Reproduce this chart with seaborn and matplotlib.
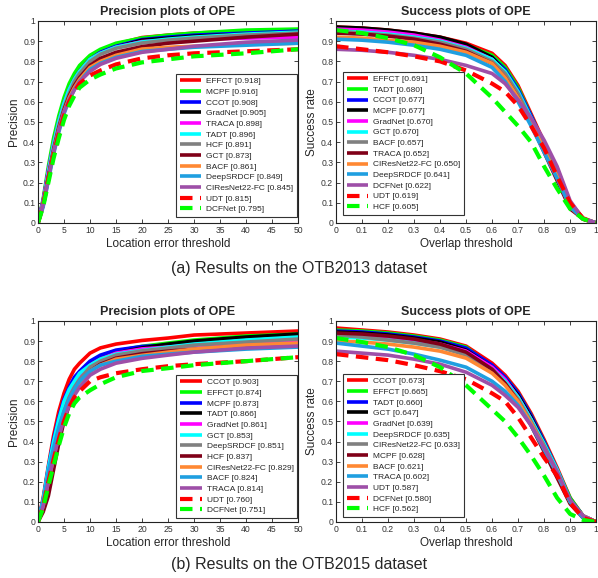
import numpy as np
import pandas as pd
import matplotlib
matplotlib.use('Agg')
import matplotlib.pyplot as plt
import seaborn as sns

# thresholds at which the curves are sampled
loc_thr = [0, 1, 2, 3, 4, 5, 6, 7, 8, 10, 12, 15, 20, 25, 30, 40, 50]
ovl_thr = [0, .1, .2, .3, .4, .5, .6, .65, .7, .75, .8, .85, .9, .95, 1]

# (a) OTB2013 precision
prec13_names = ['EFFCT', 'MCPF', 'CCOT', 'GradNet', 'TRACA', 'TADT', 'HCF', 'GCT',
                'BACF', 'DeepSRDCF', 'CIResNet22-FC', 'UDT', 'DCFNet']
prec13_scores = [0.918, 0.916, 0.908, 0.905, 0.898, 0.896, 0.891, 0.873,
                 0.861, 0.849, 0.845, 0.815, 0.795]
prec13_curves = [
    [0, .11, .26, .40, .51, .60, .67, .72, .76, .82, .855, .885, .918, .93, .94, .95, .955],
    [0, .12, .28, .42, .53, .62, .69, .74, .78, .83, .86, .89, .916, .93, .94, .955, .96],
    [0, .11, .26, .39, .50, .59, .66, .71, .75, .81, .845, .875, .908, .92, .93, .94, .95],
    [0, .10, .25, .38, .49, .58, .65, .70, .75, .81, .84, .87, .905, .915, .925, .935, .945],
    [0, .11, .26, .39, .50, .59, .66, .71, .75, .81, .84, .87, .898, .905, .91, .915, .92],
    [0, .10, .25, .39, .50, .59, .66, .71, .75, .81, .84, .87, .896, .91, .92, .935, .945],
    [0, .09, .23, .37, .48, .57, .64, .70, .74, .80, .835, .865, .891, .905, .915, .93, .94],
    [0, .09, .23, .36, .47, .56, .63, .68, .72, .78, .815, .845, .873, .89, .90, .92, .935],
    [0, .09, .22, .35, .46, .55, .62, .67, .71, .77, .80, .83, .861, .87, .875, .885, .89],
    [0, .08, .21, .34, .45, .54, .61, .66, .70, .76, .79, .82, .849, .86, .87, .88, .89],
    [0, .09, .22, .35, .46, .55, .61, .66, .70, .75, .785, .815, .845, .86, .875, .895, .905],
    [0, .09, .22, .34, .44, .53, .60, .65, .69, .73, .755, .785, .815, .83, .84, .85, .86],
    [0, .08, .20, .32, .42, .51, .58, .63, .67, .71, .735, .765, .795, .81, .825, .84, .86],
]

# (a) OTB2013 success
succ13_names = ['EFFCT', 'TADT', 'CCOT', 'MCPF', 'GradNet', 'GCT', 'BACF', 'TRACA',
                'CIResNet22-FC', 'DeepSRDCF', 'DCFNet', 'UDT', 'HCF']
succ13_scores = [0.691, 0.680, 0.677, 0.677, 0.670, 0.670, 0.657, 0.652,
                 0.650, 0.641, 0.622, 0.619, 0.605]
succ13_curves = [
    [.97, .965, .955, .94, .92, .89, .84, .78, .68, .54, .40, .27, .10, .025, 0],
    [.955, .95, .94, .93, .91, .88, .83, .77, .67, .53, .39, .25, .09, .02, 0],
    [.96, .955, .945, .93, .91, .875, .82, .76, .66, .53, .39, .25, .09, .02, 0],
    [.97, .965, .955, .94, .92, .885, .82, .75, .64, .51, .37, .23, .08, .02, 0],
    [.96, .955, .945, .93, .905, .87, .81, .74, .64, .51, .37, .24, .09, .02, 0],
    [.95, .945, .935, .92, .90, .865, .81, .75, .65, .52, .38, .24, .08, .02, 0],
    [.95, .94, .93, .915, .895, .86, .80, .74, .64, .51, .38, .25, .09, .02, 0],
    [.94, .935, .925, .91, .885, .85, .79, .72, .62, .49, .35, .21, .07, .02, 0],
    [.92, .915, .905, .895, .875, .845, .79, .72, .62, .50, .36, .23, .08, .02, 0],
    [.91, .905, .895, .88, .86, .83, .77, .70, .60, .48, .35, .22, .08, .02, 0],
    [.86, .855, .845, .83, .81, .78, .74, .69, .61, .52, .41, .28, .11, .02, 0],
    [.875, .86, .845, .825, .80, .755, .69, .65, .58, .48, .37, .23, .10, .02, 0],
    [.955, .94, .915, .88, .82, .74, .62, .55, .48, .40, .28, .17, .07, .02, 0],
]

# (b) OTB2015 precision
prec15_names = ['CCOT', 'EFFCT', 'MCPF', 'TADT', 'GradNet', 'GCT', 'DeepSRDCF', 'HCF',
                'CIResNet22-FC', 'BACF', 'TRACA', 'UDT', 'DCFNet']
prec15_scores = [0.903, 0.874, 0.873, 0.866, 0.861, 0.853, 0.851, 0.837,
                 0.829, 0.824, 0.814, 0.760, 0.751]
prec15_curves = [
    [0, .12, .28, .43, .55, .64, .71, .76, .79, .84, .866, .885, .903, .915, .93, .94, .95],
    [0, .10, .25, .38, .49, .58, .65, .70, .74, .79, .82, .85, .874, .89, .905, .925, .935],
    [0, .11, .27, .41, .52, .61, .67, .72, .75, .80, .83, .855, .873, .88, .885, .89, .90],
    [0, .10, .24, .37, .48, .57, .64, .69, .73, .78, .81, .84, .866, .885, .90, .92, .935],
    [0, .10, .25, .38, .49, .58, .64, .69, .73, .78, .81, .84, .861, .87, .88, .89, .90],
    [0, .11, .27, .40, .51, .60, .66, .70, .74, .78, .81, .835, .853, .87, .885, .905, .92],
    [0, .09, .22, .35, .46, .55, .62, .67, .71, .77, .80, .83, .851, .865, .88, .895, .91],
    [0, .05, .13, .26, .39, .50, .58, .64, .69, .75, .785, .815, .837, .85, .86, .875, .885],
    [0, .08, .20, .32, .43, .52, .59, .65, .69, .75, .78, .81, .829, .845, .86, .88, .89],
    [0, .10, .25, .37, .47, .55, .61, .66, .70, .75, .78, .80, .824, .835, .845, .86, .87],
    [0, .08, .20, .32, .42, .51, .58, .63, .67, .73, .76, .79, .814, .83, .845, .865, .875],
    [0, .08, .20, .31, .41, .50, .57, .62, .65, .70, .72, .74, .76, .775, .785, .80, .82],
    [0, .07, .18, .28, .38, .47, .54, .59, .62, .655, .685, .72, .751, .765, .78, .80, .82],
]

# (b) OTB2015 success
succ15_names = ['CCOT', 'EFFCT', 'TADT', 'GCT', 'GradNet', 'DeepSRDCF', 'CIResNet22-FC',
                'MCPF', 'BACF', 'TRACA', 'UDT', 'DCFNet', 'HCF']
succ15_scores = [0.673, 0.665, 0.660, 0.647, 0.639, 0.635, 0.633,
                 0.628, 0.621, 0.602, 0.587, 0.580, 0.562]
succ15_curves = [
    [.965, .955, .945, .93, .91, .875, .79, .73, .65, .54, .41, .27, .12, .03, 0],
    [.955, .95, .94, .925, .905, .87, .77, .72, .64, .53, .40, .26, .12, .03, 0],
    [.95, .945, .935, .92, .90, .865, .78, .72, .64, .53, .40, .26, .11, .03, 0],
    [.945, .94, .93, .915, .895, .855, .77, .71, .63, .52, .39, .25, .11, .03, 0],
    [.935, .93, .92, .905, .885, .85, .77, .71, .62, .51, .38, .25, .10, .03, 0],
    [.92, .915, .905, .89, .87, .835, .76, .70, .62, .51, .39, .26, .11, .03, 0],
    [.93, .92, .905, .89, .87, .83, .75, .69, .61, .50, .38, .25, .10, .03, 0],
    [.94, .935, .925, .91, .885, .845, .76, .69, .60, .48, .35, .22, .09, .02, 0],
    [.90, .895, .885, .87, .85, .815, .74, .68, .60, .49, .37, .24, .10, .03, 0],
    [.89, .875, .86, .835, .805, .77, .70, .65, .58, .48, .36, .24, .10, .02, 0],
    [.85, .84, .83, .81, .785, .745, .68, .63, .57, .48, .37, .25, .11, .03, 0],
    [.835, .82, .805, .78, .75, .71, .64, .60, .52, .42, .32, .23, .095, .02, 0],
    [.915, .895, .87, .83, .77, .68, .56, .50, .42, .33, .23, .12, .04, .01, 0],
]

# colour / line style by rank (MATLAB OTB toolkit style)
rank_colors = ['#ff0000', '#00ff00', '#0000ff', '#000000', '#ff00ff', '#00ffff',
               '#808080', '#800018', '#ff8833', '#1f9fe0', '#9e4fa8', '#ff0000', '#00ff00']

sns.set_style('ticks')
plt.rcParams['font.family'] = ['Liberation Sans', 'DejaVu Sans']


def draw_panel(ax, thr, names, scores, curves, kind, leg_loc, leg_anchor):
    for i, (name, score, vals) in enumerate(zip(names, scores, curves)):
        df = pd.DataFrame({'thr': thr, 'val': vals})
        if i >= 11:
            ls = (0, (3, 1.8))
            lw = 3.0
        else:
            ls = '-'
            lw = 2.6
        sns.lineplot(data=df, x='thr', y='val', ax=ax, color=rank_colors[i],
                     linestyle=ls, lw=lw, label=f'{name} [{score:.3f}]',
                     solid_capstyle='butt', dash_capstyle='butt')
    if kind == 'prec':
        ax.set_xlim(0, 50)
        ax.set_xticks(range(0, 51, 5))
        ax.set_xticklabels([str(t) for t in range(0, 51, 5)])
        ax.set_title('Precision plots of OPE', fontsize=9, fontweight='bold', pad=4)
        ax.set_xlabel('Location error threshold', fontsize=8.5, labelpad=2)
        ax.set_ylabel('Precision', fontsize=8.5, labelpad=2)
    else:
        ax.set_xlim(0, 1)
        ax.set_xticks(np.arange(0, 1.01, 0.1))
        ax.set_xticklabels(['0'] + [f'{t:.1f}' for t in np.arange(0.1, 0.95, 0.1)] + ['1'])
        ax.set_title('Success plots of OPE', fontsize=9, fontweight='bold', pad=4)
        ax.set_xlabel('Overlap threshold', fontsize=8.5, labelpad=2)
        ax.set_ylabel('Success rate', fontsize=8.5, labelpad=2)
    ax.set_ylim(0, 1)
    ax.set_yticks(np.arange(0, 1.01, 0.1))
    ax.set_yticklabels(['0'] + [f'{t:.1f}' for t in np.arange(0.1, 0.95, 0.1)] + ['1'])
    ax.tick_params(direction='in', top=True, right=True, labelsize=6.2, length=3,
                   width=0.6, colors='#222222', labelcolor='#333333', pad=2)
    for sp in ax.spines.values():
        sp.set_visible(True)
        sp.set_linewidth(0.8)
        sp.set_color('#222222')
    leg = ax.legend(loc=leg_loc, bbox_to_anchor=leg_anchor, fontsize=6,
                    frameon=True, fancybox=False, edgecolor='#333333',
                    framealpha=1, handlelength=2.6, labelspacing=0.34,
                    borderpad=0.45, handletextpad=0.6, borderaxespad=0)
    leg.get_frame().set_linewidth(0.8)


fig = plt.figure(figsize=(5.98, 5.78), dpi=100)
ax1 = fig.add_axes([0.0635, 0.6142, 0.435, 0.3495])
ax2 = fig.add_axes([0.5619, 0.6142, 0.435, 0.3495])
ax3 = fig.add_axes([0.0635, 0.0969, 0.435, 0.3478])
ax4 = fig.add_axes([0.5619, 0.0969, 0.435, 0.3478])

draw_panel(ax1, loc_thr, prec13_names, prec13_scores, prec13_curves, 'prec',
           'lower right', (0.997, 0.03))
draw_panel(ax2, ovl_thr, succ13_names, succ13_scores, succ13_curves, 'succ',
           'lower left', (0.027, 0.04))
draw_panel(ax3, loc_thr, prec15_names, prec15_scores, prec15_curves, 'prec',
           'lower right', (0.997, 0.02))
draw_panel(ax4, ovl_thr, succ15_names, succ15_scores, succ15_curves, 'succ',
           'lower left', (0.027, 0.025))

fig.text(0.5, 1 - 268 / 578, '(a) Results on the OTB2013 dataset', ha='center',
         va='center', fontsize=11.5)
fig.text(0.5, 1 - 565 / 578, '(b) Results on the OTB2015 dataset', ha='center',
         va='center', fontsize=11.5)

fig.savefig('out.png', dpi=100)
